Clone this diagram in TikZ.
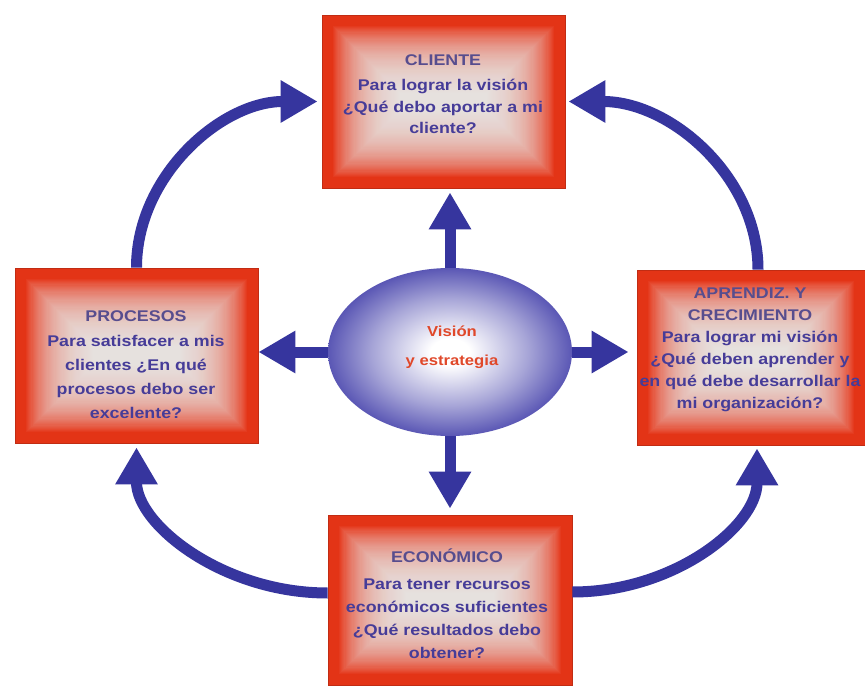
\documentclass[tikz,border=0pt]{standalone}
\usepackage{fontspec}
\setmainfont{Liberation Sans}
\newfontfamily\boxfont[FakeStretch=1.15]{Liberation Sans}
\usetikzlibrary{arrows.meta,shapes.geometric,calc}
\definecolor{boxred}{HTML}{E33416}
\definecolor{textblue}{HTML}{463C98}
\definecolor{titleblue}{HTML}{574D8E}
\definecolor{arrowblue}{HTML}{36359E}
\definecolor{ellblue}{HTML}{3A36A6}
\definecolor{visred}{HTML}{E0482A}
\pgfdeclareradialshading{ellshade}{\pgfpoint{0bp}{0bp}}{color(0bp)=(white); color(4bp)=(white); color(16bp)=(ellblue!45!white); color(26bp)=(ellblue!88!white); color(34bp)=(ellblue); color(100bp)=(ellblue)}
\tikzset{
  boxnode/.style={rectangle, fill=boxred, draw=boxred!85!black, line width=0.8pt, inner sep=0pt},
  boxtext/.style={font=\boxfont\bfseries\fontsize{15.5}{#1}\selectfont, text=textblue, align=center, anchor=base, inner sep=0pt},
  flow/.style={draw=arrowblue, line width=11pt, -{Triangle[width=40pt,length=37pt]}}
}
\begin{document}
\begin{tikzpicture}[x=1pt,y=-1pt]
\fill[white] (0,0) rectangle (865,687);
\useasboundingbox (0,0) rectangle (865,687);
% boxes
\node[boxnode, minimum width=243pt, minimum height=173pt] (cli) at (443.5,101.5) {};
\node[boxnode, minimum width=243pt, minimum height=175pt] (pro) at (136.5,355.5) {};
\node[boxnode, minimum width=228pt, minimum height=175pt] (apr) at (751,357.5) {};
\node[boxnode, minimum width=244pt, minimum height=170pt] (eco) at (450,600) {};
% inner glow
\foreach \n in {cli,pro,apr,eco}{
  \foreach \i in {0,...,59}{
    \fill[white,opacity=0.04] ($(\n.north west)+({11+1.15*\i},{11+1.15*\i})$) rectangle ($(\n.south east)-({11+1.15*\i},{11+1.15*\i})$);
  }
}
% texts (anchor base = baseline of last line)
\node[boxtext=21.5] (clit) at (443,134) {{\color{titleblue}CLIENTE}\\[3.5pt]Para lograr la visión\\¿Qué debo aportar a mi\\cliente?};
\node[boxtext=24] (prot) at (136,418) {{\color{titleblue}PROCESOS}\\[1pt]Para satisfacer a mis\\clientes ¿En qué\\procesos debo ser\\excelente?};
\node[boxtext=22] (aprt) at (750,408) {{\color{titleblue}APRENDIZ. Y}\\{\color{titleblue}CRECIMIENTO}\\Para lograr mi visión\\¿Qué deben aprender y\\en qué debe desarrollar la\\mi organización?};
\node[boxtext=23] (ecot) at (447,658) {{\color{titleblue}ECONÓMICO}\\[4pt]Para tener recursos\\económicos suficientes\\¿Qué resultados debo\\obtener?};
% ellipse
\node[ellipse, minimum width=244pt, minimum height=168pt, inner sep=0pt, shading=ellshade] (ell) at (450,352) {};
\node[font=\boxfont\bfseries\fontsize{14.5}{29}\selectfont, text=visred, align=center, anchor=base, inner sep=0pt] (vis) at (452,365) {Visión\\y estrategia};
% straight arrows
\draw[flow, shorten >=4pt] (ell.north) -- (ell.north |- cli.south);
\draw[flow] (ell.west) -- (ell.west -| pro.east);
\draw[flow, shorten >=8pt] (ell.east) -- (ell.east -| apr.west);
\draw[flow, shorten >=6pt] (ell.south) -- (ell.south |- eco.north);
% curved arrows
\draw[flow, shorten >=4pt] (pro.north) .. controls +(0,-92) and +(-100,0) .. (cli.west);
\draw[flow, shorten >=3pt] ($(apr.north)+(7,0)$) .. controls +(0,-93) and +(105,0) .. (cli.east);
\draw[flow, shorten >=4pt] ($(eco.west)+(0,-7)$) .. controls +(-105,0) and +(0,81) .. (pro.south);
\draw[flow, shorten >=3pt] ($(eco.east)+(0,-8)$) .. controls +(102,0) and +(0,80) .. ($(apr.south)+(6,0)$);
\end{tikzpicture}
\end{document}
